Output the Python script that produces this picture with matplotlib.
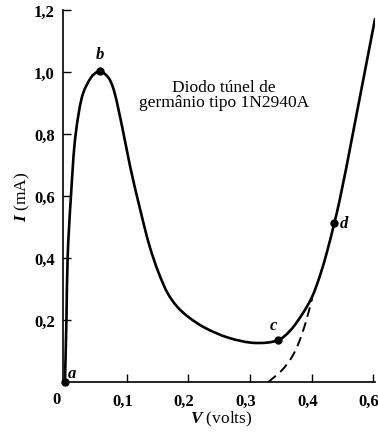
import numpy as np
import matplotlib.pyplot as plt
from matplotlib.path import Path
from matplotlib.patches import PathPatch
from matplotlib.transforms import ScaledTranslation

plt.rcParams['font.family'] = ['Liberation Serif', 'DejaVu Serif']
plt.rcParams['mathtext.fontset'] = 'custom'
plt.rcParams['mathtext.it'] = 'Liberation Serif:italic:bold'
plt.rcParams['mathtext.rm'] = 'Liberation Serif:bold'

# characteristic curve of the tunnel diode (V in volts, I in mA)
curve_v = [0.0, 0.0024, 0.0044, 0.0097, 0.0174, 0.0292, 0.0406, 0.046, 0.0568,
           0.070, 0.0779, 0.0925, 0.1055, 0.1218, 0.137, 0.152, 0.167, 0.182,
           0.200, 0.227, 0.265, 0.308, 0.346, 0.365, 0.386, 0.401, 0.414, 0.425,
           0.437, 0.446, 0.503]
curve_i = [0.0, 0.203, 0.406, 0.600, 0.800, 0.930, 0.977, 0.991, 1.003,
           0.983, 0.950, 0.826, 0.697, 0.558, 0.440, 0.352, 0.285, 0.243,
           0.210, 0.175, 0.143, 0.126, 0.135, 0.165, 0.222, 0.275, 0.345, 0.419,
           0.513, 0.590, 1.171]

# dashed ordinary-diode branch
dash_v = [0.330, 0.352, 0.368, 0.380, 0.391, 0.401]
dash_i = [0.0, 0.038, 0.080, 0.130, 0.195, 0.270]

# labelled points
pt_names = ['a', 'b', 'c', 'd']
pt_v = [0.0, 0.0568, 0.346, 0.437]
pt_i = [0.0, 1.003, 0.135, 0.513]

xtick_pos = [0.1, 0.2, 0.3, 0.4, 0.5]
xtick_lab = ['0,1', '0,2', '0,3', '0,4', '0,6']
ytick_pos = [0.2, 0.4, 0.6, 0.8, 1.0, 1.2]
ytick_lab = ['0,2', '0,4', '0,6', '0,8', '1,0', '1,2']

PX_V, PX_I = 616.0, 310.0   # rough pixels per volt / per mA, for the spline spacing


def smooth_path(xs, ys):
    # centripetal Catmull-Rom through the read points, as cubic Bezier segments
    s = np.array([PX_V, PX_I])
    p = np.column_stack([xs, ys]) * s
    ext = np.vstack([2 * p[0] - p[1], p, 2 * p[-1] - p[-2]])
    d = np.sqrt(np.linalg.norm(np.diff(ext, axis=0), axis=1))
    t = np.concatenate([[0], np.cumsum(d)])
    verts = [p[0]]
    codes = [Path.MOVETO]
    for k in range(1, len(ext) - 2):
        P0, P1, P2, P3 = ext[k - 1], ext[k], ext[k + 1], ext[k + 2]
        t0, t1, t2, t3 = t[k - 1], t[k], t[k + 1], t[k + 2]
        m1 = (P1 - P0) / (t1 - t0) - (P2 - P0) / (t2 - t0) + (P2 - P1) / (t2 - t1)
        m2 = (P2 - P1) / (t2 - t1) - (P3 - P1) / (t3 - t1) + (P3 - P2) / (t3 - t2)
        dt = t2 - t1
        verts += [P1 + m1 * dt / 3, P2 - m2 * dt / 3, P2]
        codes += [Path.CURVE4] * 3
    return Path(np.array(verts) / s, codes)


W, H = 378, 435
fig = plt.figure(figsize=(W / 100, H / 100), dpi=100)
ax = fig.add_axes([63 / W, 52 / H, 312 / W, 372 / H])

ax.add_patch(PathPatch(smooth_path(curve_v, curve_i), fill=False, color='black',
                       lw=1.9, capstyle='round'))
ax.add_patch(PathPatch(smooth_path(dash_v, dash_i), fill=False, color='black',
                       lw=1.4, linestyle=(0, (5, 3))))
ax.plot(pt_v, pt_i, 'o', color='black', ms=5, clip_on=False)

offs = {'a': (0.012, 0.03), 'b': (0.0, 0.055), 'c': (-0.008, 0.05), 'd': (0.016, 0.0)}
for n, v, i in zip(pt_names, pt_v, pt_i):
    dx, dy = offs[n]
    ax.text(v + dx, i + dy, n, style='italic', fontweight='bold', fontsize=12,
            ha='center', va='center')

ax.text(0.258, 0.939, 'Diodo túnel de', fontsize=12.5, ha='center', va='baseline')
ax.text(0.258, 0.890, 'germânio tipo 1N2940A', fontsize=12.5, ha='center', va='baseline')

ax.set_xlim(-0.0032, 0.503)
ax.set_ylim(0, 1.2)
ax.spines['top'].set_visible(False)
ax.spines['right'].set_visible(False)
for sp in ['left', 'bottom']:
    ax.spines[sp].set_linewidth(1.2)

ax.set_xticks(xtick_pos)
ax.set_xticklabels(xtick_lab, fontsize=12, fontweight='bold')
ax.set_yticks(ytick_pos)
ax.set_yticklabels(ytick_lab, fontsize=12, fontweight='bold')
ax.tick_params(axis='x', direction='in', length=6, width=1, pad=8)
ax.tick_params(axis='y', direction='in', length=6, width=1, pad=6)
shift = ScaledTranslation(-4 / 100, 0, fig.dpi_scale_trans)
for lab in ax.get_xticklabels():
    lab.set_transform(lab.get_transform() + shift)
ax.text(-0.013, -0.055, '0', fontsize=12, fontweight='bold', ha='center', va='center')

fig.text(221 / W, 1 - 423 / H, r'$V$ (volts)', fontsize=12.5, ha='center', va='baseline')
fig.text(22 / W, 1 - 197 / H, r'$I$ (mA)', fontsize=12.5, ha='center', va='center',
         rotation=90)

fig.savefig('out.png', dpi=100)
